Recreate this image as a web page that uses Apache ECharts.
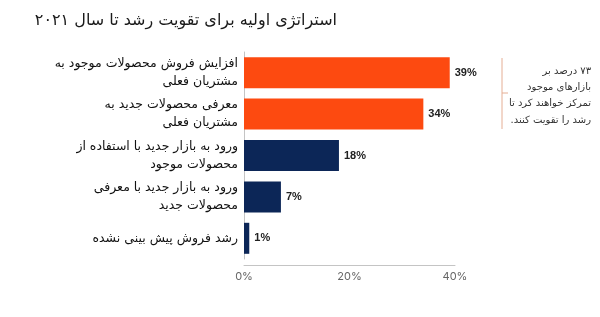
<!DOCTYPE html>
<html>
<head>
<meta charset="utf-8">
<script src="https://cdn.jsdelivr.net/npm/echarts@6/dist/echarts.min.js"></script>
<style>
  html, body { margin: 0; padding: 0; background: #fff; }
  #chart { width: 600px; height: 317px; }
</style>
</head>
<body>
<div id="chart" dir="rtl"></div>
<script>
// دسته‌ها و مقادیر
const categories = [
  'افزایش فروش محصولات موجود به\nمشتریان فعلی',
  'معرفی محصولات جدید به\nمشتریان فعلی',
  'ورود به بازار جدید با استفاده از\nمحصولات موجود',
  'ورود به بازار جدید با معرفی\nمحصولات جدید',
  'رشد فروش پیش بینی نشده'
];
const values = [39, 34, 18, 7, 1];
const barColors = ['#fd4a10', '#fd4a10', '#0c2657', '#0c2657', '#0c2657'];
const xTicks = [0, 20, 40];
const titleText = 'استراتژی اولیه برای تقویت رشد تا سال ۲۰۲۱';
const noteLines = [
  '۷۳ درصد بر',
  'بازارهای موجود',
  'تمرکز خواهند کرد تا',
  'رشد را تقویت کنند.'
];

const persianFont = '"DejaVu Sans", "Noto Sans", sans-serif';

const chart = echarts.init(document.getElementById('chart'));

chart.setOption({
  backgroundColor: '#fff',
  animation: false,
  grid: { left: 244, right: 145, top: 52, bottom: 58, containLabel: false },
  xAxis: {
    type: 'value',
    min: xTicks[0],
    max: xTicks[xTicks.length - 1],
    interval: xTicks[1] - xTicks[0],
    offset: 6,
    splitLine: { show: false },
    axisTick: { show: false },
    axisLine: { show: true, lineStyle: { color: '#c4c4c4', width: 1 } },
    axisLabel: {
      formatter: '{value}%',
      color: '#666',
      fontSize: 11,
      fontFamily: 'Inter, sans-serif',
      margin: 6
    }
  },
  yAxis: {
    type: 'category',
    inverse: true,
    data: categories,
    axisTick: { show: false },
    axisLine: { show: true, lineStyle: { color: '#c4c4c4', width: 1 } },
    axisLabel: {
      color: '#111',
      fontSize: 12.5,
      lineHeight: 18,
      fontFamily: persianFont,
      margin: 6,
      align: 'right'
    }
  },
  series: [{
    type: 'bar',
    barWidth: 31,
    data: values.map((v, i) => ({ value: v, itemStyle: { color: barColors[i] } })),
    label: {
      show: true,
      position: 'right',
      distance: 5,
      formatter: '{c}%',
      color: '#222',
      fontSize: 11,
      fontWeight: 'bold',
      fontFamily: '"Liberation Sans", Arial, sans-serif'
    }
  }],
  graphic: [
    {
      type: 'text',
      right: 263,
      top: 13,
      style: {
        text: titleText,
        fill: '#1a1a1a',
        font: '500 16px ' + persianFont,
        textAlign: 'right'
      }
    },
    {
      type: 'line',
      shape: { x1: 502, y1: 58, x2: 502, y2: 129 },
      style: { stroke: '#e5ae94', lineWidth: 1 }
    },
    {
      type: 'line',
      shape: { x1: 502, y1: 93, x2: 508, y2: 93 },
      style: { stroke: '#e5ae94', lineWidth: 1 }
    },
    {
      type: 'text',
      right: 9,
      top: 63,
      style: {
        text: noteLines.join('\n'),
        fill: '#333',
        font: '10px ' + persianFont,
        lineHeight: 16.3,
        textAlign: 'right'
      }
    }
  ]
});
</script>
</body>
</html>
